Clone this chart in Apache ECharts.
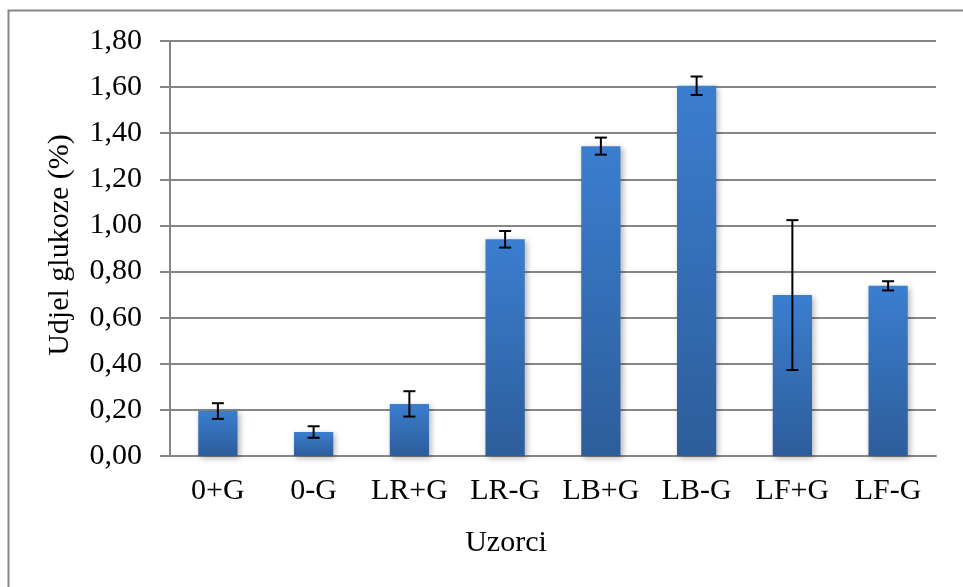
<!DOCTYPE html>
<html>
<head>
<meta charset="utf-8">
<script src="https://cdn.jsdelivr.net/npm/echarts@6/dist/echarts.min.js"></script>
<style>
html,body{margin:0;padding:0;background:#fff;}
#c{width:963px;height:587px;}
</style>
</head>
<body>
<div id="c"></div>
<script>
const categories = ['0+G','0-G','LR+G','LR-G','LB+G','LB-G','LF+G','LF-G'];
const values = [0.195, 0.104, 0.226, 0.940, 1.344, 1.606, 0.698, 0.738];
const errors = [0.034, 0.025, 0.055, 0.036, 0.037, 0.040, 0.325, 0.020];
const yTicks = { min: 0, max: 1.8, interval: 0.2 };
const yTitle = 'Udjel glukoze (%)';
const xTitle = 'Uzorci';

const FONT = "'Liberation Serif', 'Times New Roman', serif";
const chart = echarts.init(document.getElementById('c'), null, {renderer:'canvas'});
const errData = values.map((v,i)=>[i, v - errors[i], v + errors[i]]);

chart.setOption({
  animation:false,
  backgroundColor:'#fff',
  grid:{left:170, top:41, right:27, bottom:131},
  xAxis:{
    type:'category', data:categories,
    axisLine:{lineStyle:{color:'#868686', width:2}},
    axisTick:{show:false},
    axisLabel:{color:'#000', fontFamily:FONT, fontSize:30, margin:20, interval:0}
  },
  yAxis:{
    type:'value', min:yTicks.min, max:yTicks.max, interval:yTicks.interval,
    axisLine:{show:true, lineStyle:{color:'#868686', width:2}},
    axisTick:{show:true, length:10, lineStyle:{color:'#868686', width:2}},
    splitLine:{lineStyle:{color:'#868686', width:2}},
    axisLabel:{color:'#000', fontFamily:FONT, fontSize:30, margin:28,
      formatter:v=>v.toFixed(2).replace('.',',')}
  },
  series:[
    {
      type:'bar', data:values, barWidth:'41%',
      itemStyle:{
        color:new echarts.graphic.LinearGradient(0,0,0,1,[
          {offset:0,color:'#3b7ecf'},{offset:1,color:'#2d5d9b'}]),
        shadowBlur:6, shadowColor:'rgba(0,0,0,0.3)', shadowOffsetX:2, shadowOffsetY:2
      }
    },
    {
      type:'custom', data:errData, z:10,
      renderItem:function(params, api){
        const x = api.value(0);
        const lo = api.coord([x, api.value(1)]);
        const hi = api.coord([x, api.value(2)]);
        const hw = 6;
        const st = {stroke:'#000', lineWidth:2};
        return {type:'group', children:[
          {type:'line', shape:{x1:lo[0],y1:lo[1],x2:hi[0],y2:hi[1]}, style:st},
          {type:'line', shape:{x1:lo[0]-hw,y1:lo[1],x2:lo[0]+hw,y2:lo[1]}, style:st},
          {type:'line', shape:{x1:hi[0]-hw,y1:hi[1],x2:hi[0]+hw,y2:hi[1]}, style:st}
        ]};
      }
    }
  ],
  graphic:[
    {type:'rect', shape:{x:8.5,y:10.5,width:980,height:620}, style:{fill:null, stroke:'#868686', lineWidth:2}, silent:true},
    {type:'text', x:60, y:245, rotation:Math.PI/2,
      style:{text:yTitle, font:"30px "+FONT, fill:'#000', textAlign:'center', textVerticalAlign:'middle'}},
    {type:'text', x:506, y:543,
      style:{text:xTitle, font:"30px "+FONT, fill:'#000', textAlign:'center', textVerticalAlign:'middle'}}
  ]
});
</script>
</body>
</html>
